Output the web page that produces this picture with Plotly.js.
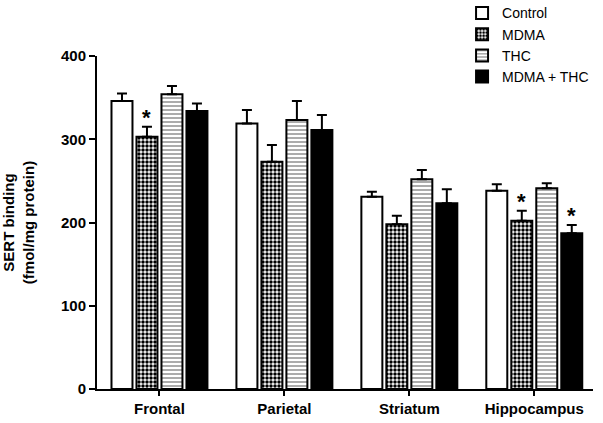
<!DOCTYPE html>
<html><head><meta charset="utf-8">
<script src="https://cdn.plot.ly/plotly-3.0.1.min.js"></script>
<style>html,body{margin:0;padding:0;background:#fff}#chart{width:603px;height:423px}</style>
</head><body><div id="chart"></div>
<script>
const regions = ["Frontal", "Parietal", "Striatum", "Hippocampus"];
const seriesNames = ["Control", "MDMA", "THC", "MDMA + THC"];
const control = [346, 319, 231, 238];
const controlErr = [9, 16, 6, 8];
const mdma = [303, 273, 198, 202];
const mdmaErr = [12, 20, 10, 12];
const thc = [354, 323, 252, 241];
const thcErr = [10, 23, 11, 6];
const mdmaThc = [334, 311, 223, 187];
const mdmaThcErr = [9, 18, 17, 10];
// significance markers: [region, series index]
const sigMarks = [["Frontal", 1], ["Hippocampus", 1], ["Hippocampus", 3]];

const values = [control, mdma, thc, mdmaThc];
const errs = [controlErr, mdmaErr, thcErr, mdmaThcErr];
const patterns = [
  {shape: ""},
  {shape: ".", fgcolor: "#000", bgcolor: "#fff", size: 4, solidity: 0.6, fillmode: "replace"},
  {shape: "-", fgcolor: "#888", bgcolor: "#fff", size: 4, solidity: 0.35, fillmode: "replace"},
  {shape: ""}
];
const fills = ["#fff", "#fff", "#fff", "#000"];

const traces = seriesNames.map((name, i) => ({
  type: "bar", name: name, x: regions, y: values[i],
  marker: {color: fills[i], pattern: patterns[i], line: {color: "#000", width: 2}},
  error_y: {type: "data", symmetric: false, array: errs[i], arrayminus: regions.map(() => 0),
            color: "#000", thickness: 2, width: 5}
}));

const slotPx = 25;
const annotations = sigMarks.map(([reg, si]) => {
  const idx = regions.indexOf(reg);
  return {x: reg, y: values[si][idx] + errs[si][idx], xref: "x", yref: "y",
    text: "*", showarrow: false, yanchor: "bottom", xshift: (si - 1.5) * slotPx, yshift: -5,
    font: {family: "Liberation Sans, Arial, sans-serif", size: 22, color: "#000", weight: "bold"}};
});

const layout = {
  width: 603, height: 423,
  margin: {l: 97, r: 10, t: 56, b: 34, autoexpand: false},
  paper_bgcolor: "#fff", plot_bgcolor: "#fff",
  barmode: "group", bargap: 0.2, bargroupgap: 0.16,
  font: {family: "Liberation Sans, Arial, sans-serif", color: "#000"},
  xaxis: {range: [-0.5, 3.47], showline: true, linecolor: "#000", linewidth: 2,
    ticks: "outside", ticklen: 5, tickwidth: 2, tickcolor: "#000",
    tickfont: {size: 15, weight: "bold"}, showgrid: false, zeroline: false},
  yaxis: {range: [0, 400], tickvals: [0, 100, 200, 300, 400], showline: true, linecolor: "#000", linewidth: 2,
    ticks: "outside", ticklen: 6, tickwidth: 2, tickcolor: "#000",
    tickfont: {size: 15, weight: "bold"}, showgrid: false, zeroline: false,
    title: {text: "SERT binding<br>(fmol/mg protein)", font: {size: 15, weight: "bold"}, standoff: 24}},
  legend: {x: 0.736, y: 1.176, xanchor: "left", yanchor: "top", font: {size: 14},
    bgcolor: "rgba(0,0,0,0)", tracegroupgap: 0},
  showlegend: true,
  annotations: annotations
};

Plotly.newPlot("chart", traces, layout, {displayModeBar: false, staticPlot: true});
</script></body></html>
